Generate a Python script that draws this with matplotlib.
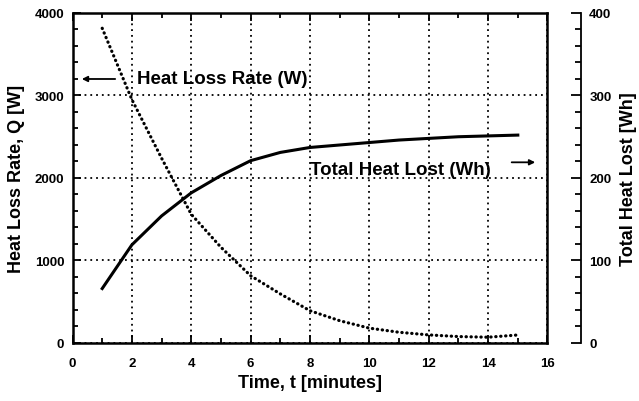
import numpy as np
import matplotlib.pyplot as plt
from matplotlib.ticker import MultipleLocator

# time in minutes
time_min = [1, 2, 3, 4, 5, 6, 7, 8, 9, 10, 11, 12, 13, 14, 15]
# heat loss rate, Q [W]
heat_rate = [3815, 2950, 2240, 1560, 1160, 815, 595, 391, 270, 180, 130, 98, 78, 70, 97]
# total heat lost [Wh]
heat_total = [66, 119, 154, 182, 203, 221, 231, 237, 240, 243, 246, 248, 250, 251, 252]

plt.rcParams["font.family"] = ["Liberation Sans", "DejaVu Sans"]
plt.rcParams["font.weight"] = "bold"
plt.rcParams["font.size"] = 9.5

fig = plt.figure(figsize=(6.39, 4.02), dpi=100)
ax = fig.add_axes([0.1135, 0.1443, 0.7433, 0.8209])

ax.plot(time_min, heat_rate, color="black", linestyle=(0, (0.1, 1.45)), linewidth=2.3,
        dash_capstyle="round")
ax.set_xlim(0, 16)
ax.set_ylim(0, 4000)
ax.xaxis.set_major_locator(MultipleLocator(2))
ax.xaxis.set_minor_locator(MultipleLocator(1))
ax.yaxis.set_major_locator(MultipleLocator(1000))
ax.yaxis.set_minor_locator(MultipleLocator(200))
ax.grid(True, which="major", color="black", linestyle=(0, (1, 2.2)), linewidth=1.3)
ax.tick_params(which="both", direction="in", top=True, right=True, width=1.3)
ax.tick_params(which="major", length=6)
ax.tick_params(which="minor", length=3.5)
ax.tick_params(axis="x", pad=10)
ax.tick_params(axis="y", pad=6)
for s in ax.spines.values():
    s.set_linewidth(1.8)

ax.set_xlabel("Time, t [minutes]", fontsize=13, fontweight="bold", labelpad=4)
ax.set_ylabel("Heat Loss Rate, Q [W]", fontsize=13, fontweight="bold", labelpad=7)

ax2 = ax.twinx()
ax2.plot(time_min, heat_total, color="black", linewidth=2.2)
ax2.set_ylim(0, 400)
ax2.yaxis.set_major_locator(MultipleLocator(100))
ax2.yaxis.set_minor_locator(MultipleLocator(20))
for k in ["left", "top", "bottom"]:
    ax2.spines[k].set_visible(False)
ax2.spines["right"].set_position(("outward", 24))
ax2.spines["right"].set_linewidth(1.3)
ax2.tick_params(which="both", direction="in", width=1.3, pad=6)
ax2.tick_params(which="major", length=7)
ax2.tick_params(which="minor", length=4)
ax2.set_ylabel("Total Heat Lost [Wh]", fontsize=13, fontweight="bold", labelpad=6)

ax.text(2.17, 3200, "Heat Loss Rate (W)", fontsize=13.5, fontweight="bold", va="center")
ax.annotate("", xy=(0.22, 3200), xytext=(1.53, 3200),
            arrowprops=dict(arrowstyle="-|>", color="black", lw=1.3, mutation_scale=8))
ax.text(8.0, 2100, "Total Heat Lost (Wh)", fontsize=13.5, fontweight="bold", va="center")
ax.annotate("", xy=(15.68, 2190), xytext=(14.7, 2190),
            arrowprops=dict(arrowstyle="-|>", color="black", lw=1.3, mutation_scale=8))

fig.savefig("out.png", dpi=100)
